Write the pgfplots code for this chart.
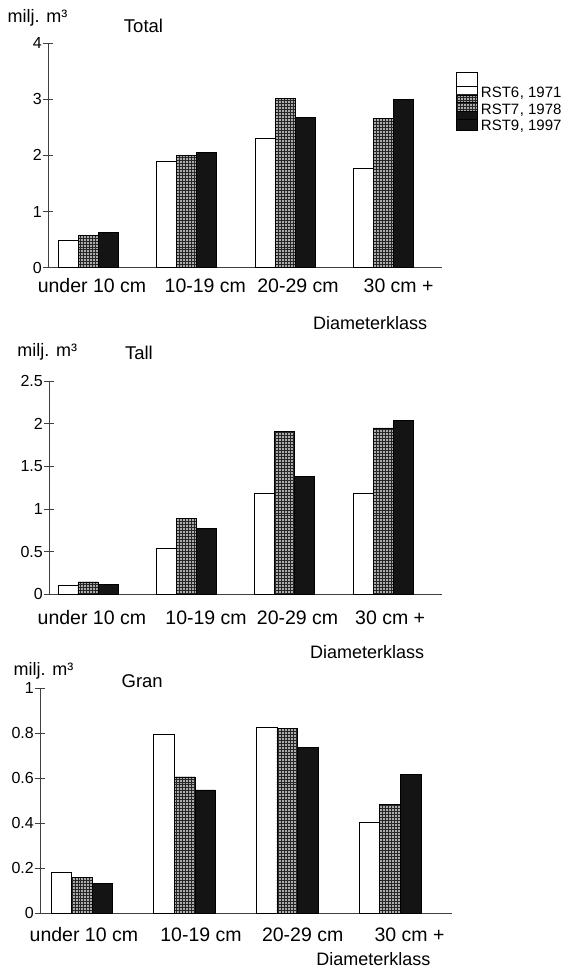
\documentclass[border=0pt]{standalone}
\usepackage{fontspec}
\setmainfont{Liberation Sans}
\usepackage{pgfplots}
\pgfplotsset{compat=1.18}
\usetikzlibrary{patterns}

\pgfplotstableread{
x   a     b     c
0   0.48  0.58  0.63
1   1.89  2.00  2.05
2   2.30  3.01  2.68
3   1.77  2.66  3.00
}\totaldata
\pgfplotstableread{
x   a     b     c
0   0.105 0.145 0.12
1   0.54  0.89  0.77
2   1.18  1.91  1.38
3   1.185 1.95  2.04
}\talldata
\pgfplotstableread{
x   a     b     c
0   0.182 0.161 0.133
1   0.797 0.606 0.548
2   0.825 0.822 0.738
3   0.406 0.483 0.618
}\grandata

\tikzset{
  sA/.style={draw=black, line width=0.7bp, fill=white},
  sB/.style={draw=black, line width=0.7bp, fill=gray!65, postaction={pattern=grid, pattern color=black!85}},
  sC/.style={draw=black, line width=0.7bp, fill=black!92},
}

\pgfplotsset{
  panel/.style={
    scale only axis,
    anchor=south west,
    ybar,
    axis x line*=bottom,
    axis y line*=left,
    axis line style={-, black!75, line width=0.8bp},
    enlargelimits=false,
    ymin=0,
    major tick length=10bp,
    tick align=center,
    ytick style={black!75, line width=0.8bp},
    xtick style={draw=none},
    /pgf/number format/assume math mode=true,
    yticklabel style={font=\fontsize{16bp}{18bp}\selectfont, inner sep=1bp},
    xticklabel style={font=\fontsize{19.5bp}{22bp}\selectfont, anchor=base, inner sep=0pt},
    every axis y label/.style={font=\fontsize{18bp}{21bp}\selectfont, anchor=base},
    every axis x label/.style={font=\fontsize{18bp}{21bp}\selectfont, anchor=base},
    title style={font=\fontsize{18.5bp}{21bp}\selectfont, anchor=base},
    xlabel={Diameterklass},
    ylabel={milj. m³},
  },
}

\begin{document}
\begin{tikzpicture}
\path[use as bounding box] (0,0) rectangle (575bp,970bp);

% ---------- Total ----------
\begin{axis}[panel,
  at={(48bp,702.3bp)}, width=393.7bp, height=224.7bp,
  xmin=-0.406, xmax=3.587, ymax=4,
  ytick={0,1,2,3,4},
  xtick={0.04,1.19,2.13,3.15},
  xticklabels={under 10 cm,10-19 cm,20-29 cm,30 cm +},
  xticklabel style={yshift=-20bp},
  bar width=20bp,
  title={Total},
  title style={at={(axis description cs:0.2426,1.021)}},
  every axis y label/.append style={at={(axis description cs:-0.0267,1.089)}},
  every axis x label/.append style={at={(axis description cs:0.818,-0.276)}},
  legend style={at={(axis description cs:1.036,0.8095)}, anchor=north west,
    draw=none, fill=none, inner sep=0pt, row sep=0pt,
    font=\fontsize{15bp}{16bp}\selectfont,
    nodes={inner sep=0pt, text height=11.5bp, text depth=4.5bp},
    cells={anchor=base west},
    /tikz/every odd column/.append style={column sep=3.5bp}},
]
\addplot[sA, bar shift=-20bp,
  legend image code/.code={\draw[sA, overlay] (0bp,3.3bp) rectangle (20.7bp,25.6bp); \path (0,0) rectangle (20.7bp,11.5bp);}]
  table[x=x,y=a]{\totaldata};
\addplot[sB, bar shift=0bp,
  legend image code/.code={\draw[sB, overlay] (0bp,3.3bp) rectangle (20.7bp,19.3bp); \path (0,0) rectangle (20.7bp,11.5bp);}]
  table[x=x,y=b]{\totaldata};
\addplot[sC, bar shift=20bp,
  legend image code/.code={\draw[sC, overlay] (0bp,3.3bp) rectangle (20.7bp,19.3bp); \path (0,0) rectangle (20.7bp,11.5bp);}]
  table[x=x,y=c]{\totaldata};
\legend{RST6\kern0.5pt{,} 1971, RST7\kern0.5pt{,} 1978, RST9\kern0.5pt{,} 1997}
\end{axis}

% ---------- Tall ----------
\begin{axis}[panel,
  at={(49bp,375.7bp)}, width=392.7bp, height=213.3bp,
  xmin=-0.396, xmax=3.594, ymax=2.5,
  ytick={0,0.5,1,1.5,2,2.5},
  xtick={0.04,1.20,2.13,3.07},
  xticklabels={under 10 cm,10-19 cm,20-29 cm,30 cm +},
  xticklabel style={yshift=-25bp},
  bar width=20bp,
  title={Tall},
  title style={at={(axis description cs:0.229,1.075)}},
  every axis y label/.append style={at={(axis description cs:-0.0043,1.114)}},
  every axis x label/.append style={at={(axis description cs:0.81,-0.299)}},
]
\addplot[sA, bar shift=-20bp] table[x=x,y=a]{\talldata};
\addplot[sB, bar shift=0bp] table[x=x,y=b]{\talldata};
\addplot[sC, bar shift=20bp] table[x=x,y=c]{\talldata};
\end{axis}

% ---------- Gran ----------
\begin{axis}[panel,
  at={(40bp,56.7bp)}, width=412bp, height=225bp,
  xmin=-0.4075, xmax=3.604, ymax=1,
  ytick={0,0.2,0.4,0.6,0.8,1},
  xtick={0.02,1.16,2.15,3.19},
  xticklabels={under 10 cm,10-19 cm,20-29 cm,30 cm +},
  xticklabel style={yshift=-23bp},
  bar width=20.6bp,
  title={Gran},
  title style={at={(axis description cs:0.248,0.978)}},
  every axis y label/.append style={at={(axis description cs:0.0085,1.059)}},
  every axis x label/.append style={at={(axis description cs:0.809,-0.234)}},
]
\addplot[sA, bar shift=-20.6bp] table[x=x,y=a]{\grandata};
\addplot[sB, bar shift=0bp] table[x=x,y=b]{\grandata};
\addplot[sC, bar shift=20.6bp] table[x=x,y=c]{\grandata};
\end{axis}
\end{tikzpicture}
\end{document}
